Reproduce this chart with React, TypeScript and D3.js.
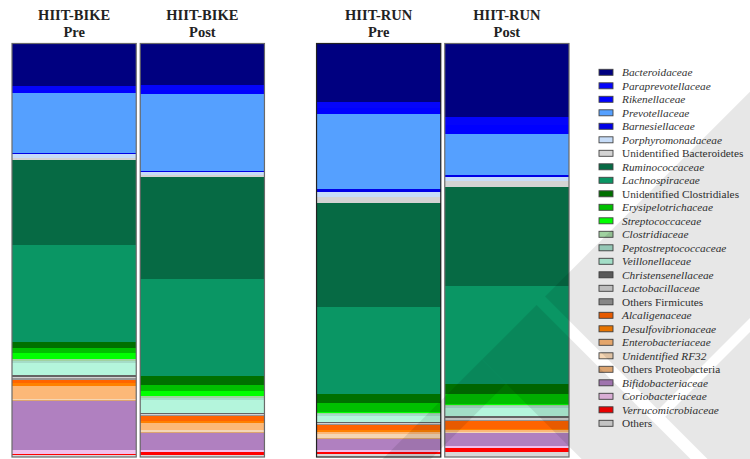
import React from 'react';
import * as d3 from 'd3';

// families, top of the bar first
const families = [
  'Bacteroidaceae', 'Paraprevotellaceae', 'Rikenellaceae', 'Prevotellaceae', 'Barnesiellaceae',
  'Porphyromonadaceae', 'Unidentified Bacteroidetes', 'Ruminococcaceae', 'Lachnospiraceae',
  'Unidentified Clostridiales', 'Erysipelotrichaceae', 'Streptococcaceae', 'Clostridiaceae',
  'Peptostreptococcaceae', 'Veillonellaceae', 'Christensenellaceae', 'Lactobacillaceae',
  'Others Firmicutes', 'Alcaligenaceae', 'Desulfovibrionaceae', 'Enterobacteriaceae',
  'Unidentified RF32', 'Others Proteobacteria', 'Bifidobacteriaceae', 'Coriobacteriaceae',
  'Verrucomicrobiaceae', 'Others',
];

const familyColors = [
  '#000080', '#0505fa', '#0000ff', '#55a0ff', '#0000e6',
  '#c6dcf8', '#d3d3d3', '#066a44', '#0a9664',
  '#007000', '#00c000', '#00ff00', '#a0d2a0',
  '#a4dcc8', '#b4f5dc', '#646464', '#d2d2d2',
  '#969696', '#ff6400', '#ff8000', '#fcb878',
  '#f5d6b4', '#dca470', '#b080c0', '#f0c0ec',
  '#ff0000', '#d8d8d8',
];

// labels not set in italics
const plainLabels = [
  'Unidentified Bacteroidetes', 'Unidentified Clostridiales', 'Others Firmicutes',
  'Others Proteobacteria', 'Others',
];

const groups = ['HIIT-BIKE', 'HIIT-RUN'];
const phases = ['Pre', 'Post'];

// relative abundance (%), same order as families
const bikePre = [10.2, 1.0, 0.9, 14.5, 0.3, 1.0, 0.4, 20.6, 23.6, 1.5, 1.2, 1.5, 0.4, 0.5, 3.0, 0.3, 0.3, 0.4, 0.8, 0.8, 3.0, 0.3, 0.2, 12.0, 1.0, 0.1, 0.6];
const bikePost = [10.1, 1.1, 1.0, 18.5, 0.4, 0.6, 0.6, 24.5, 23.5, 2.2, 1.4, 1.2, 0.6, 0.5, 3.0, 0.3, 0.2, 0.3, 1.1, 0.5, 1.8, 0.4, 0.4, 4.0, 0.6, 0.5, 0.6];
const runPre = [14.3, 1.5, 1.4, 18.3, 0.6, 1.3, 1.5, 25.2, 21.1, 2.2, 2.2, 0.3, 0.3, 0.4, 1.5, 0.2, 0.2, 0.2, 1.4, 0.4, 0.5, 0.9, 0.2, 2.8, 0.4, 0.5, 0.8];
const runPost = [17.9, 2.0, 2.0, 10.2, 0.5, 0.8, 1.4, 24.2, 23.8, 2.5, 2.4, 0.3, 0.2, 0.4, 2.0, 0.6, 0.3, 0.3, 1.9, 0.4, 0.4, 0.2, 0.1, 3.1, 0.6, 1.0, 1.1];

interface Sample {
  group: string;
  phase: string;
  values: number[];
}

const samples: Sample[] = [
  { group: groups[0], phase: phases[0], values: bikePre },
  { group: groups[0], phase: phases[1], values: bikePost },
  { group: groups[1], phase: phases[0], values: runPre },
  { group: groups[1], phase: phases[1], values: runPost },
];

const W = 750;
const H = 459;
const serif = '"Liberation Serif", "Times New Roman", serif';

const App: React.FC = () => {
  const xGroup = d3.scaleBand<string>().domain(groups).range([12, 569]).paddingInner(0.171);
  const xPhase = d3.scaleBand<string>().domain(phases).range([0, xGroup.bandwidth()]).paddingInner(0.031);
  const y = d3.scaleLinear().domain([0, 1]).range([43.5, 457]);

  const stack = d3.stack<Sample, string>()
    .keys(families)
    .value((d, key) => d.values[families.indexOf(key)])
    .offset(d3.stackOffsetExpand);
  const series = stack(samples);

  const color = d3.scaleOrdinal<string, string>().domain(families).range(familyColors);
  const legendY = d3.scalePoint<string>().domain(families).range([72.3, 423.3]);

  const barX = (s: Sample) => (xGroup(s.group) || 0) + (xPhase(s.phase) || 0);
  const bw = xPhase.bandwidth();

  return (
    <svg width={W} height={H} style={{ position: 'absolute', left: 0, top: 0, background: '#fff' }}>
      {/* stacked segments */}
      <g shapeRendering="crispEdges">
        {series.map(layer => (
          <g key={layer.key} fill={color(layer.key)}>
            {layer.map((d, i) => (
              <rect
                key={i}
                x={barX(d.data)}
                y={y(d[0])}
                width={bw}
                height={Math.max(0, y(d[1]) - y(d[0]))}
              />
            ))}
          </g>
        ))}
      </g>

      {/* bar outlines */}
      {samples.map((s, i) => (
        <rect key={i} x={barX(s)} y={y(0)} width={bw} height={y(1) - y(0)}
          fill="none" stroke={i === 2 ? '#222' : '#6a6a6a'} strokeWidth={1.2} />
      ))}

      {/* titles */}
      {samples.map((s, i) => (
        <text key={i} x={barX(s) + bw / 2} textAnchor="middle" fontFamily={serif}
          fontWeight="bold" fontSize={14.5} fill="#222">
          <tspan x={barX(s) + bw / 2} y={20}>{s.group}</tspan>
          <tspan x={barX(s) + bw / 2} y={36.5}>{s.phase}</tspan>
        </text>
      ))}

      {/* legend */}
      <g>
        {families.map(f => (
          <g key={f} transform={`translate(599,${legendY(f)})`}>
            <rect x={0} y={-3} width={14} height={6} fill={color(f)} stroke="#444" strokeWidth={0.9} />
            <text x={23} y={4} fontFamily={serif} fontSize={11.3} fill="#333"
              fontStyle={plainLabels.includes(f) ? 'normal' : 'italic'}>{f}</text>
          </g>
        ))}
      </g>

      {/* watermark */}
      <g transform="translate(657.5,417.5) rotate(45)" fill="#000" opacity={0.09}>
        <rect x={-165} y={-400} width={160} height={394} />
        <rect x={5} y={-400} width={300} height={394} />
        <rect x={-165} y={6} width={465} height={77} />
        <rect x={-165} y={83} width={34} height={300} />
      </g>
    </svg>
  );
};

export default App;
